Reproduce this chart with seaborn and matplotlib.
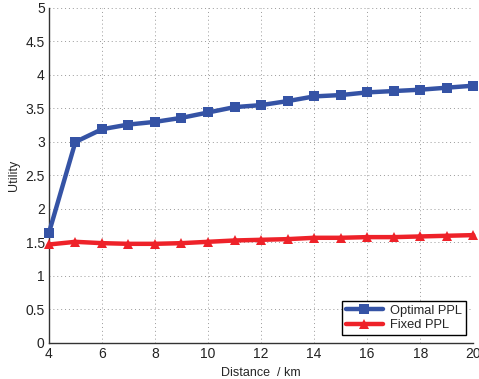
import numpy as np
import pandas as pd
import matplotlib
matplotlib.use("Agg")
import matplotlib.pyplot as plt
import seaborn as sns

# values
distance = [4, 5, 6, 7, 8, 9, 10, 11, 12, 13, 14, 15, 16, 17, 18, 19, 20]
optimal_ppl = [1.64, 3.00, 3.19, 3.26, 3.30, 3.36, 3.44, 3.52, 3.55, 3.61,
               3.68, 3.70, 3.74, 3.76, 3.78, 3.81, 3.84]
fixed_ppl = [1.47, 1.51, 1.49, 1.48, 1.48, 1.49, 1.51, 1.53, 1.54, 1.55,
             1.57, 1.57, 1.58, 1.58, 1.59, 1.60, 1.61]
series_names = ["Optimal PPL", "Fixed PPL"]

df = pd.DataFrame({
    "Distance": distance * 2,
    "Utility": optimal_ppl + fixed_ppl,
    "series": [series_names[0]] * len(distance) + [series_names[1]] * len(distance),
})

sns.set_style("white")
plt.rcParams['font.family'] = ['Liberation Sans', 'DejaVu Sans']

fig = plt.figure(figsize=(4.79, 3.79), dpi=100)
ax = fig.add_axes([0.102, 0.095, 0.886, 0.884])

palette = {"Optimal PPL": "#3553a5", "Fixed PPL": "#ee2229"}
markers = {"Optimal PPL": "s", "Fixed PPL": "^"}
sns.lineplot(data=df, x="Distance", y="Utility", hue="series", style="series",
             palette=palette, markers=markers, dashes=False, linewidth=3.2,
             markersize=7, markeredgewidth=0, ax=ax, clip_on=False, zorder=3)

ax.set_xlim(4, 20)
ax.set_ylim(0, 5)
ax.set_xticks(range(4, 21, 2))
ax.set_yticks(np.arange(0, 5.01, 0.5))
ax.set_yticklabels(["0", "0.5", "1", "1.5", "2", "2.5", "3", "3.5", "4", "4.5", "5"])
ax.grid(True, linestyle=(0, (1, 3)), color="#999999", linewidth=0.7)
ax.tick_params(labelsize=10, colors="#222222", length=3, direction="in", pad=3)

for s in ["top", "right"]:
    ax.spines[s].set_visible(False)
for s in ["left", "bottom"]:
    ax.spines[s].set_color("#333333")
    ax.spines[s].set_linewidth(1.0)

ax.set_xlabel("Distance  / km", fontsize=9, labelpad=4)
ax.set_ylabel("Utility", fontsize=9, labelpad=4)

leg = ax.legend(loc="lower right", fontsize=9.3, frameon=True, fancybox=False,
                edgecolor="black", framealpha=1, handlelength=2.9,
                handletextpad=0.5, borderaxespad=0.6, borderpad=0.3,
                labelspacing=0.2)
leg.get_frame().set_linewidth(1.0)

fig.savefig("out.png", dpi=100)
